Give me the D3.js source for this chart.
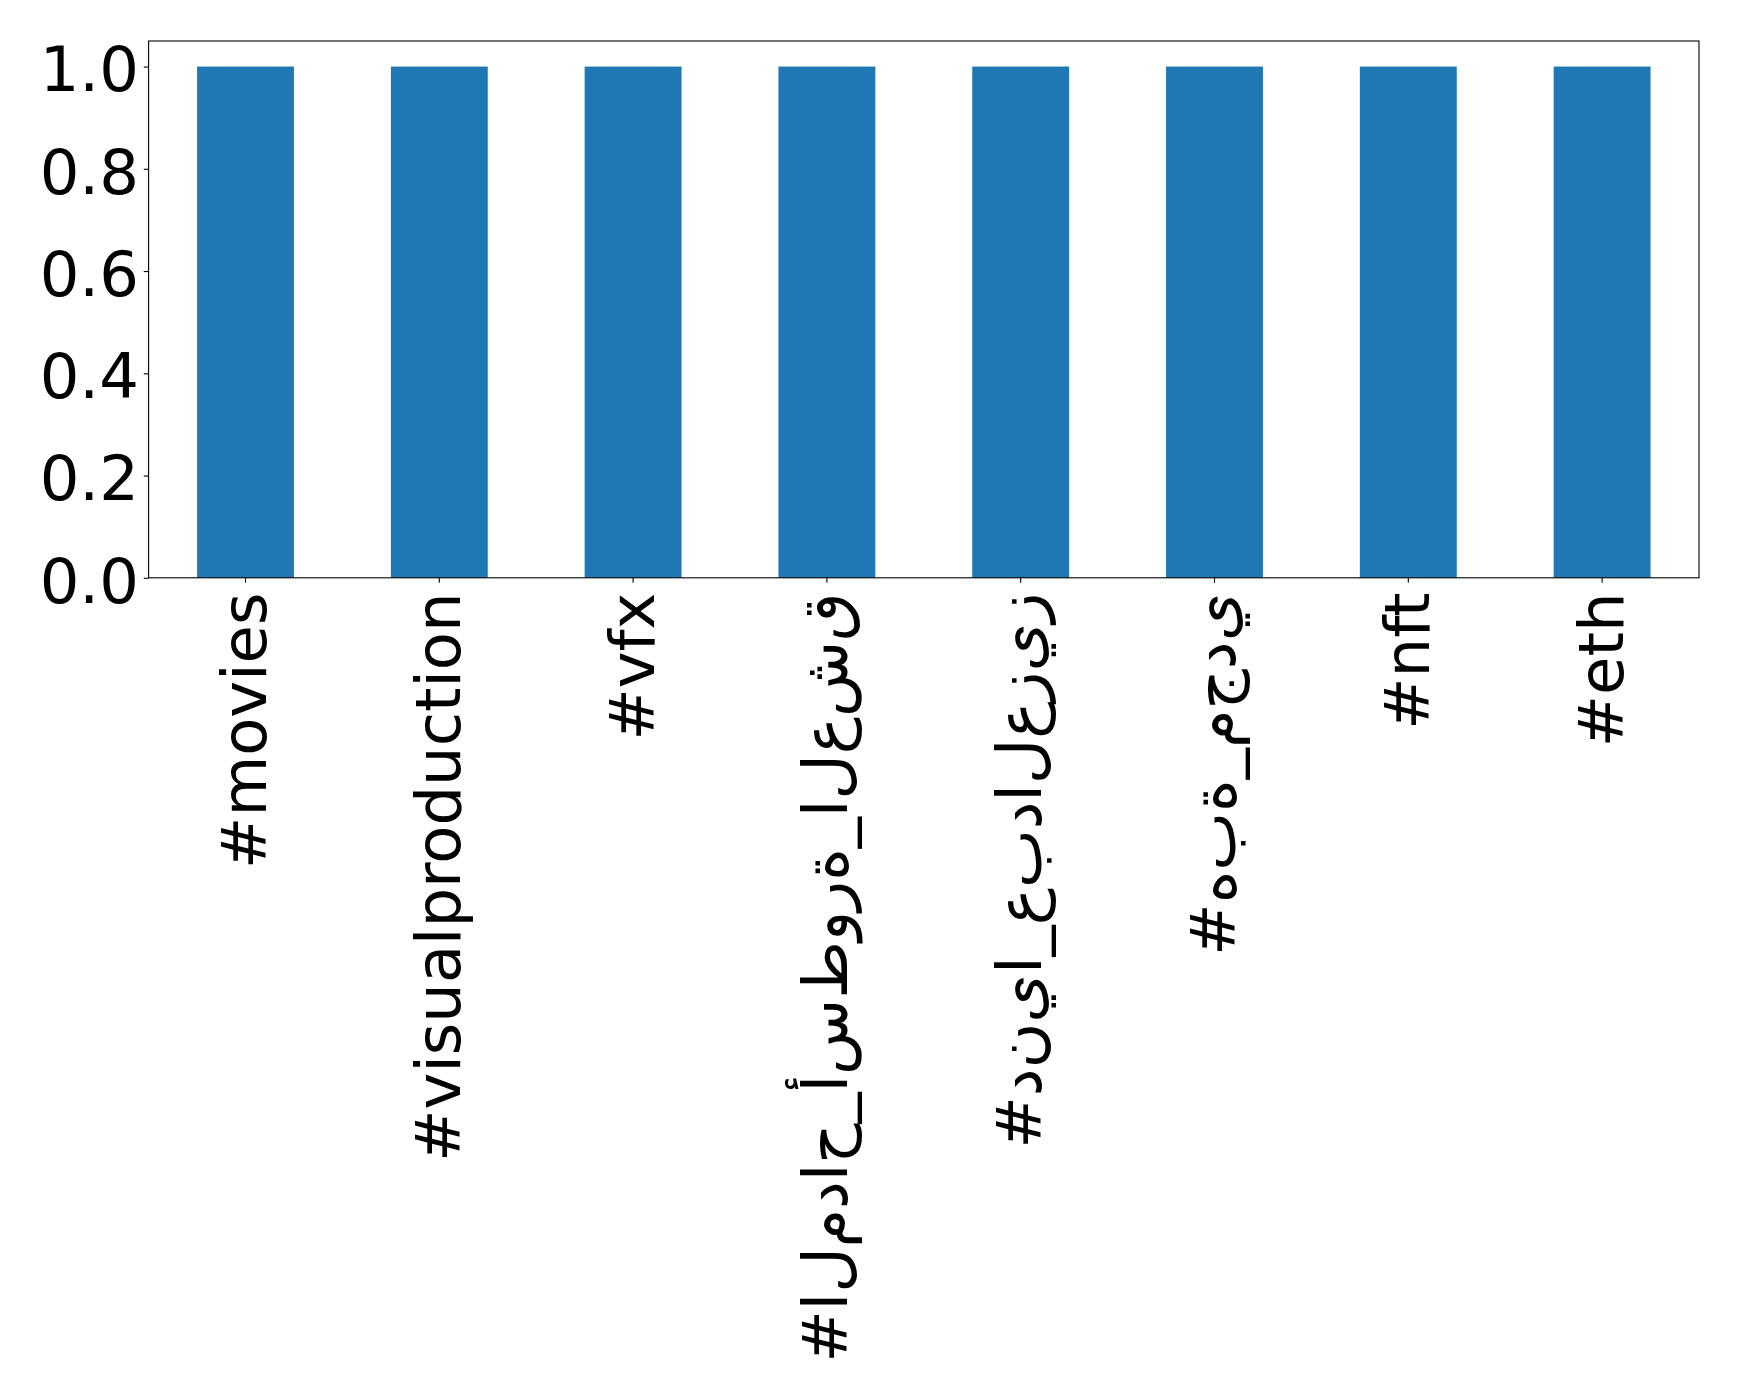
<!DOCTYPE html>
<html><head><meta charset="utf-8">
<script src="https://cdn.jsdelivr.net/npm/d3@7"></script>
<style>body{margin:0;background:#fff}svg{display:block}text{font-family:"DejaVu Sans";}</style>
</head><body>
<script>
const categories = ["#movies","#visualproduction","#vfx","#المداح_أسطورة_العشق","#دنيا_عبدالعزيز","#هبة_مجدي","#nft","#eth"];
const values = [1,1,1,1,1,1,1,1];
const yTicks = [0,0.2,0.4,0.6,0.8,1.0];
const yTickLabels = ["0.0","0.2","0.4","0.6","0.8","1.0"];

const W=1739,H=1400;
const m={left:148.6,right:1699,top:41,bottom:577.8};
const svg=d3.select("body").append("svg").attr("width",W).attr("height",H);
const x=d3.scaleLinear().domain([-0.5,7.5]).range([m.left,m.right]);
const y=d3.scaleLinear().domain([0,1.05]).range([m.bottom,m.top]);
const fs=62.4, tick=4.86, pad=4.86;

svg.append("g").selectAll("rect").data(values).join("rect")
  .attr("x",(d,i)=>x(i-0.25)).attr("width",(d,i)=>x(i+0.25)-x(i-0.25))
  .attr("y",d=>y(d)).attr("height",d=>y(0)-y(d)).attr("fill","#1f77b4");

// display Arabic unshaped, logical order LTR (as in reference)
function unshaped(s){
  if(!/[\u0600-\u06FF]/.test(s)) return s;
  return "\u202D"+Array.from(s).join("\u200C")+"\u202C";
}

const yAxis=d3.axisLeft(y).tickValues(yTicks).tickFormat((d,i)=>yTickLabels[i]).tickSize(tick).tickPadding(pad);
const gy=svg.append("g").attr("transform",`translate(${m.left},0)`).call(yAxis);
gy.select(".domain").remove();
gy.selectAll("line").attr("stroke","#000").attr("stroke-width",1.1);
gy.selectAll("text").attr("font-size",fs).attr("font-family","DejaVu Sans").attr("fill","#000").attr("dy","0.39em");

const xb=d3.scaleBand().domain(categories).range([x(-0.5),x(7.5)]);
const xAxis=d3.axisBottom(xb).tickSize(tick).tickPadding(pad).tickFormat(unshaped);
const gx=svg.append("g").attr("transform",`translate(0,${m.bottom})`).call(xAxis);
gx.select(".domain").remove();
gx.selectAll("line").attr("stroke","#000").attr("stroke-width",1.1);
gx.selectAll("text").attr("font-size",fs).attr("font-family","DejaVu Sans").attr("fill","#000")
  .attr("transform",`translate(0,${tick+pad+5}) rotate(-90)`).attr("x",0).attr("y",0)
  .attr("dy","0.33em").attr("text-anchor","end");

svg.append("rect").attr("x",m.left).attr("y",m.top).attr("width",m.right-m.left).attr("height",m.bottom-m.top)
  .attr("fill","none").attr("stroke","#000").attr("stroke-width",1.1);
</script>
</body></html>
